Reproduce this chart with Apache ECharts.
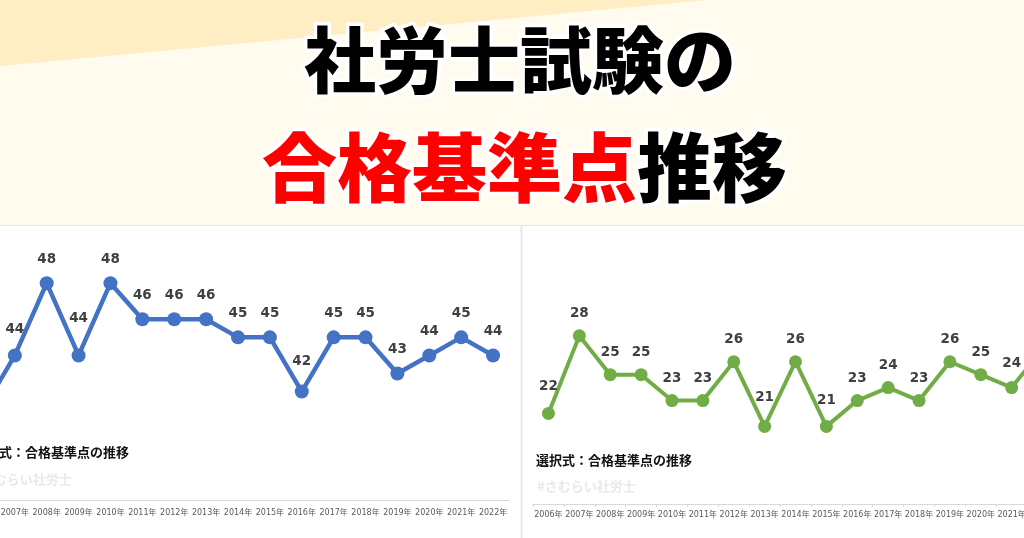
<!DOCTYPE html>
<html><head><meta charset="utf-8">
<script src="https://cdn.jsdelivr.net/npm/echarts@6/dist/echarts.min.js"></script>
<style>html,body{margin:0;padding:0;background:#fffbef}#c{width:1024px;height:538px}</style>
</head><body><div id="c"></div>
<script>
// ---- data ----
const years = ['2006年','2007年','2008年','2009年','2010年','2011年','2012年','2013年','2014年','2015年','2016年','2017年','2018年','2019年','2020年','2021年','2022年'];
const takuitsuScores = [41,44,48,44,48,46,46,46,45,45,42,45,45,43,44,45,44];
const sentakuScores  = [22,28,25,25,23,23,26,21,26,21,23,24,23,26,25,24,27];
const headlineLine1 = '社労士試験の';
const headlineRed = '合格基準点';
const headlineBlack = '推移';
const leftTitle = '択一式：合格基準点の推移';
const rightTitle = '選択式：合格基準点の推移';
const watermark = '#さむらい社労士';

// ---- label spacing tweaks (style only) ----
const leftLabelGap = {1: 12, 3: 23, 10: 16};
const rightLabelGap = {0: 14, 7: 16, 9: 13, 15: 11};

const numFont = '"DejaVu Sans", "Noto Sans CJK JP", sans-serif';
const jpFont = '"Noto Sans CJK JP", sans-serif';

function buildData(values, gaps, base) {
  return values.map((v, i) => ({ value: v, label: { distance: gaps[i] !== undefined ? gaps[i] : base } }));
}

const chart = echarts.init(document.getElementById('c'), null, {renderer: 'canvas'});
const labelStyle = {show: true, position: 'top', fontFamily: numFont, fontSize: 13.5, fontWeight: 'bold', color: '#404040'};

chart.setOption({
  animation: false,
  backgroundColor: '#fffbef',
  graphic: [
    {type: 'polygon', z: 0, shape: {points: [[0, 0], [707, 0], [0, 66]]}, style: {fill: '#ffedc3'}},
    {type: 'rect', z: 0, shape: {x: 0, y: 226, width: 1024, height: 312}, style: {fill: '#ffffff'}},
    {type: 'line', z: 0, shape: {x1: 0, y1: 225.5, x2: 1024, y2: 225.5}, style: {stroke: '#e4e4e4', lineWidth: 1}},
    {type: 'line', z: 0, shape: {x1: 521.5, y1: 226, x2: 521.5, y2: 538}, style: {stroke: '#e8e8e8', lineWidth: 2}},
    {type: 'text', z: 10, x: 520, y: 60, style: {text: headlineLine1, font: '900 72px "Noto Sans CJK JP"', fill: '#000', stroke: '#fff', lineWidth: 7, textAlign: 'center', textVerticalAlign: 'middle'}},
    {type: 'text', z: 10, x: 637, y: 167, style: {text: headlineRed, font: '900 75px "Noto Sans CJK JP"', fill: '#ff0000', stroke: '#fff', lineWidth: 7, textAlign: 'right', textVerticalAlign: 'middle'}},
    {type: 'text', z: 10, x: 637, y: 167, style: {text: headlineBlack, font: '900 75px "Noto Sans CJK JP"', fill: '#000', stroke: '#fff', lineWidth: 7, textAlign: 'left', textVerticalAlign: 'middle'}}
  ],
  title: [
    {text: leftTitle, left: -27, top: 446, padding: 0, textStyle: {fontFamily: jpFont, fontSize: 13, fontWeight: 'bold', color: '#111'}},
    {text: watermark, left: -27, top: 473, padding: 0, textStyle: {fontFamily: jpFont, fontSize: 13, fontWeight: 'bold', color: '#e9e9e9'}},
    {text: rightTitle, left: 536, top: 454, padding: 0, textStyle: {fontFamily: jpFont, fontSize: 13, fontWeight: 'bold', color: '#111'}},
    {text: watermark, left: 537, top: 480, padding: 0, textStyle: {fontFamily: jpFont, fontSize: 13, fontWeight: 'bold', color: '#e9e9e9'}}
  ],
  grid: [
    {left: -33, width: 542, top: 247, height: 253, containLabel: false, outerBoundsMode: 'none'},
    {left: 533, width: 525, top: 310, height: 194, containLabel: false, outerBoundsMode: 'none'}
  ],
  xAxis: [
    {type: 'category', gridIndex: 0, data: years, boundaryGap: true,
     axisLine: {lineStyle: {color: '#d9d9d9'}}, axisTick: {show: false},
     axisLabel: {interval: 0, margin: 9, fontSize: 8, color: '#595959', fontFamily: numFont}},
    {type: 'category', gridIndex: 1, data: years, boundaryGap: true,
     axisLine: {lineStyle: {color: '#d9d9d9'}}, axisTick: {show: true, length: 3, lineStyle: {color: '#d9d9d9'}},
     axisLabel: {interval: 0, margin: 7, fontSize: 8, color: '#595959', fontFamily: numFont}}
  ],
  yAxis: [
    {type: 'value', gridIndex: 0, min: 36, max: 50, show: false, splitLine: {show: false}},
    {type: 'value', gridIndex: 1, min: 15, max: 30, show: false, splitLine: {show: false}}
  ],
  series: [
    {type: 'line', name: '択一式', xAxisIndex: 0, yAxisIndex: 0, data: buildData(takuitsuScores, leftLabelGap, 10),
     symbol: 'circle', symbolSize: 14, showAllSymbol: true,
     lineStyle: {color: '#4472c4', width: 4.5}, itemStyle: {color: '#4472c4'}, label: labelStyle},
    {type: 'line', name: '選択式', xAxisIndex: 1, yAxisIndex: 1, data: buildData(sentakuScores, rightLabelGap, 9),
     symbol: 'circle', symbolSize: 13, showAllSymbol: true,
     lineStyle: {color: '#70ad47', width: 4}, itemStyle: {color: '#70ad47'}, label: labelStyle}
  ]
});
</script>
</body></html>
